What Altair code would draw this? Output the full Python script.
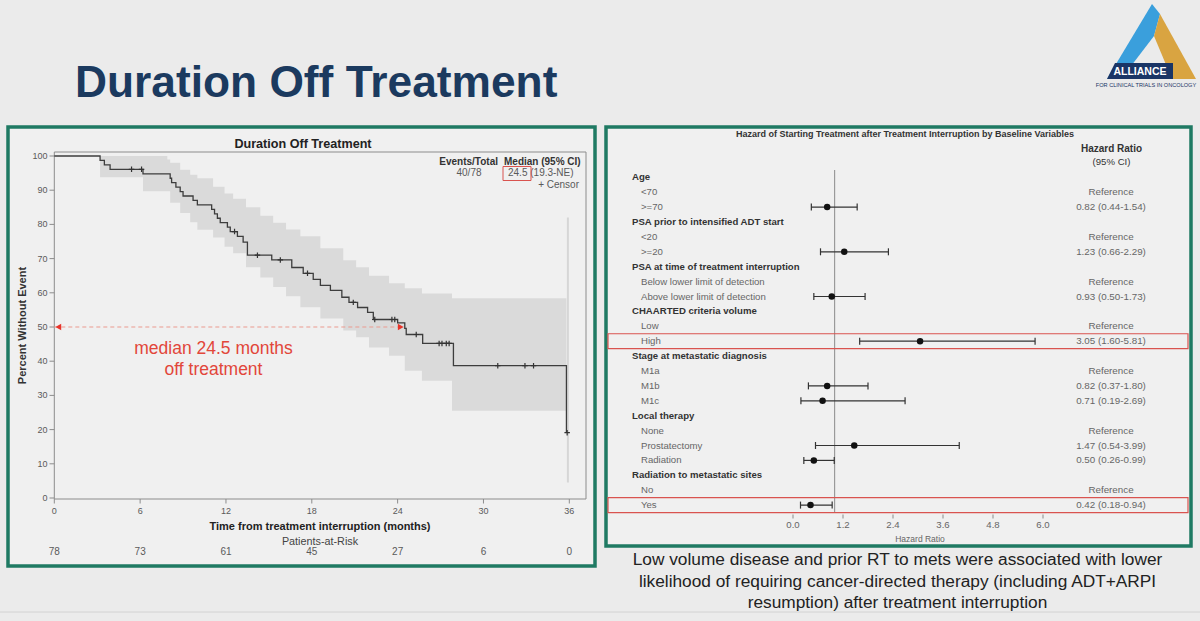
import altair as alt
import numpy as np
import pandas as pd

FONT = "Liberation Sans"
BG = "#ebebeb"
PANEL = "#f0f0f0"
FRAME = "#1f7a63"
NAVY = "#1b3a5f"
RED = "#e2463a"

# ---------------- Kaplan-Meier: duration off treatment ----------------
km_time = [0, 3.2, 3.5, 3.9, 6.2, 8.1, 8.2, 8.5, 8.8, 9.0, 9.7, 10.0, 11.0, 11.2,
           11.4, 11.6, 12.1, 12.3, 12.8, 13.2, 13.5, 15.2, 16.6, 17.4, 18.1, 18.6,
           19.3, 20.1, 20.6, 21.2, 21.9, 22.3, 24.0, 24.5, 24.6, 25.75, 27.9, 35.8]
km_surv = [100, 98.7, 97.4, 96.1, 94.8, 93.5, 92.2, 90.9, 89.6, 88.3, 87.0, 85.7,
           84.4, 83.1, 81.8, 80.5, 79.2, 77.9, 76.5, 74.8, 71.0, 69.6, 67.4, 65.7,
           63.9, 62.2, 60.7, 58.7, 57.2, 55.7, 54.3, 52.2, 51.2, 49.6, 47.8, 45.2,
           38.7, 19.1]
censor_time = [5.4, 6.1, 12.6, 14.2, 15.8, 17.7, 20.9, 22.4, 23.6, 23.8, 25.3,
               26.9, 27.1, 27.4, 27.6, 31.0, 32.9, 33.5, 35.85]

# pointwise 95% confidence band
band_time = [3.2, 6.2, 7.9, 8.1, 8.8, 9.5, 10.0, 11.1, 11.9, 12.5, 13.4, 14.4,
             15.3, 16.2, 17.2, 18.6, 20.2, 21.1, 22.0, 23.4, 24.5, 25.7, 27.8, 35.8]
band_hi = [100, 100, 99, 98, 96, 94.5, 93.5, 91, 89, 87.5, 85, 82.5, 80.5, 78.5,
           76.5, 73, 69.5, 67.5, 65, 62.8, 61.3, 59.8, 58.4, 58.4]
band_lo = [93.8, 89.7, 89.7, 86.3, 83.3, 80.6, 78.4, 76.2, 73.5, 71.6, 67.5, 64.5,
           61.7, 59, 55.8, 52.5, 49, 47, 44, 41.6, 37.2, 34.3, 25.5, 25.5]
last_ci = [35.9, 4.5, 82]

median_months = 24.5
km_x_ticks = [0, 6, 12, 18, 24, 30, 36]
km_y_ticks = [0, 10, 20, 30, 40, 50, 60, 70, 80, 90, 100]
at_risk = [78, 73, 61, 45, 27, 6, 0]

# ---------------- Forest plot: hazard ratios ----------------
forest_rows = ["Age", "<70", ">=70", "PSA prior to intensified ADT start", "<20", ">=20",
               "PSA at time of treatment interruption", "Below lower limit of detection",
               "Above lower limit of detection", "CHAARTED criteria volume", "Low", "High",
               "Stage at metastatic diagnosis", "M1a", "M1b", "M1c", "Local therapy", "None",
               "Prostatectomy", "Radiation", "Radiation to metastatic sites", "No", "Yes"]
header_rows = [0, 3, 6, 9, 12, 16, 20]
ref_rows = [1, 4, 7, 10, 13, 17, 21]
est_rows = [2, 5, 8, 11, 14, 15, 18, 19, 22]
hr_est = [0.82, 1.23, 0.93, 3.05, 0.82, 0.71, 1.47, 0.50, 0.42]
hr_lo = [0.44, 0.66, 0.50, 1.60, 0.37, 0.19, 0.54, 0.26, 0.18]
hr_hi = [1.54, 2.29, 1.73, 5.81, 1.80, 2.69, 3.99, 0.99, 0.94]
highlight_rows = [11, 22]
hr_ticks = [0.0, 1.2, 2.4, 3.6, 4.8, 6.0]

caption = ["Low volume disease and prior RT to mets were associated with lower",
           "likelihood of requiring cancer-directed therapy (including ADT+ARPI",
           "resumption) after treatment interruption"]

# ---------------- scales (pixel ranges on the slide canvas) ----------------
kx = alt.Scale(domain=[0, 36], range=[54.3, 569.3], nice=False, zero=False)
ky = alt.Scale(domain=[0, 100], range=[498, 156], nice=False, zero=False)
fx = alt.Scale(domain=[0, 6], range=[793, 1043], nice=False, zero=False)
fy = alt.Scale(domain=[0, 22], range=[177.3, 505.1], nice=False, zero=False)


def KX(f):
    return alt.X(f, type="quantitative", scale=kx, axis=None)


def KY(f):
    return alt.Y(f, type="quantitative", scale=ky, axis=None)


def FX(f):
    return alt.X(f, type="quantitative", scale=fx, axis=None)


def FY(f):
    return alt.Y(f, type="quantitative", scale=fy, axis=None)


ONE = pd.DataFrame({"k": [0]})


def text_at(text, x, y, size, color="#333333", weight="normal", align="left",
            baseline="middle", angle=0):
    props = dict(text=text, fontSize=size, color=color, fontWeight=weight,
                 align=align, baseline=baseline, font=FONT)
    if angle:
        props["angle"] = angle
    return alt.Chart(ONE).mark_text(**props).encode(x=alt.value(x), y=alt.value(y))


def box_at(x, x2, y, y2, stroke, sw, fill=None):
    kw = dict(stroke=stroke, strokeWidth=sw)
    if fill:
        kw["fill"] = fill
    else:
        kw["fillOpacity"] = 0
    return alt.Chart(ONE).mark_rect(**kw).encode(
        x=alt.value(x), x2=alt.value(x2), y=alt.value(y), y2=alt.value(y2))


layers = []

# panels
layers.append(box_at(8, 595, 127, 566, FRAME, 3.5, PANEL))
layers.append(box_at(606, 1191, 127, 546, FRAME, 3.5, PANEL))

# ---- KM panel ----
km = pd.DataFrame({"t": km_time, "s": km_surv})
band = pd.DataFrame({"t": band_time, "lo": band_lo, "hi": band_hi})
idx = np.searchsorted(km_time, censor_time, side="right") - 1
cens = pd.DataFrame({"t": censor_time, "s": np.array(km_surv)[idx]})

layers.append(alt.Chart(band).mark_area(interpolate="step-after", color="#dadada", opacity=1)
              .encode(x=KX("t"), y=KY("lo"), y2=alt.Y2("hi")))
layers.append(alt.Chart(pd.DataFrame({"t": [last_ci[0]], "a": [last_ci[1]], "b": [last_ci[2]]}))
              .mark_rule(color="#d6d6d6", strokeWidth=2)
              .encode(x=KX("t"), y=KY("a"), y2=alt.Y2("b")))
layers.append(box_at(54.3, 586, 152, 499, "#8c8c8c", 1))

yt = pd.DataFrame({"v": km_y_ticks})
layers.append(alt.Chart(yt).mark_rule(color="#8c8c8c", strokeWidth=1)
              .encode(y=KY("v"), x=alt.value(49.5), x2=alt.value(54.3)))
layers.append(alt.Chart(yt).mark_text(align="right", baseline="middle", fontSize=9,
                                      font=FONT, color="#5a5a5a")
              .encode(y=KY("v"), x=alt.value(47.5), text="v:Q"))
xt = pd.DataFrame({"v": km_x_ticks, "n": at_risk})
layers.append(alt.Chart(xt).mark_rule(color="#8c8c8c", strokeWidth=1)
              .encode(x=KX("v"), y=alt.value(499), y2=alt.value(503.5)))
layers.append(alt.Chart(xt).mark_text(align="center", baseline="middle", fontSize=9,
                                      font=FONT, color="#5a5a5a")
              .encode(x=KX("v"), y=alt.value(510.5), text="v:Q"))
layers.append(alt.Chart(xt).mark_text(align="center", baseline="middle", fontSize=10,
                                      font=FONT, color="#5a5a5a")
              .encode(x=KX("v"), y=alt.value(551.5), text="n:Q"))

# median marker
med = pd.DataFrame({"a": [0.0], "b": [median_months], "y": [50]})
layers.append(alt.Chart(med).mark_rule(color="#eb9a8f", strokeWidth=1, strokeDash=[4, 3])
              .encode(x=KX("a"), x2=alt.X2("b"), y=KY("y")))
layers.append(alt.Chart(med).mark_point(shape="triangle-left", filled=True, size=45,
                                        color="#e8342a", opacity=1)
              .encode(x=KX("a"), y=KY("y"), xOffset=alt.value(4)))
layers.append(alt.Chart(med).mark_point(shape="triangle-right", filled=True, size=45,
                                        color="#e8342a", opacity=1)
              .encode(x=KX("b"), y=KY("y"), xOffset=alt.value(-4)))

layers.append(alt.Chart(km).mark_line(interpolate="step-after", color="#3d3d3d", strokeWidth=1.3)
              .encode(x=KX("t"), y=KY("s")))
layers.append(alt.Chart(cens).mark_point(shape="M0,-1L0,1M-1,0L1,0", size=30, filled=False,
                                         color="#333333", strokeWidth=1.2, opacity=1)
              .encode(x=KX("t"), y=KY("s")))

layers.append(text_at("Duration Off Treatment", 303, 144, 12.6, "#222222", "bold", "center"))
layers.append(text_at("Events/Total", 498, 161.5, 10, "#333333", "bold", "right"))
layers.append(text_at("Median (95% CI)", 504, 161.5, 10, "#333333", "bold"))
layers.append(text_at("40/78", 469, 173, 10, "#5a5a5a", align="center"))
layers.append(text_at("24.5 (19.3-NE)", 508, 173, 10, "#5a5a5a"))
layers.append(text_at("+  Censor", 579, 185, 10, "#5a5a5a", align="right"))
layers.append(box_at(503, 531, 166.5, 180.5, "#d9534f", 1))
layers.append(text_at("Percent Without Event", 23, 325.5, 11, "#333333", "bold", "center", angle=270))
layers.append(text_at("Time from treatment interruption (months)", 320, 527, 11, "#222222", "bold", "center"))
layers.append(text_at("Patients-at-Risk", 320, 541.5, 10.8, "#444444", align="center"))
layers.append(text_at("median 24.5 months", 213.5, 348.5, 17.5, RED, align="center"))
layers.append(text_at("off treatment", 213.5, 370, 17.5, RED, align="center"))

# ---- forest panel ----
rows = pd.DataFrame({"r": list(range(len(forest_rows))), "label": forest_rows})
heads = rows[rows.r.isin(header_rows)]
subs = rows[~rows.r.isin(header_rows)]
est = pd.DataFrame({"r": est_rows, "e": hr_est, "lo": hr_lo, "hi": hr_hi})
est["txt"] = [f"{e:.2f} ({l:.2f}-{h:.2f})" for e, l, h in zip(hr_est, hr_lo, hr_hi)]
refs = pd.DataFrame({"r": ref_rows, "txt": ["Reference"] * len(ref_rows)})
hl = pd.DataFrame({"a": [r - 0.5 for r in highlight_rows], "b": [r + 0.5 for r in highlight_rows]})

layers.append(alt.Chart(pd.DataFrame({"v": [1.0]})).mark_rule(color="#8a8a8a", strokeWidth=1)
              .encode(x=FX("v"), y=alt.value(170), y2=alt.value(513)))
layers.append(alt.Chart(hl).mark_rect(fillOpacity=0, stroke="#d9534f", strokeWidth=1.2)
              .encode(y=FY("a"), y2=alt.Y2("b"), x=alt.value(608), x2=alt.value(1188)))
layers.append(alt.Chart(est).mark_rule(color="#333333", strokeWidth=1.2)
              .encode(x=FX("lo"), x2=alt.X2("hi"), y=FY("r")))
for f in ["lo", "hi"]:
    layers.append(alt.Chart(est).mark_point(shape="M0,-1L0,1", size=49, filled=False,
                                            color="#333333", strokeWidth=1.2, opacity=1)
                  .encode(x=FX(f), y=FY("r")))
layers.append(alt.Chart(est).mark_circle(size=42, color="#111111", opacity=1)
              .encode(x=FX("e"), y=FY("r")))
layers.append(alt.Chart(heads).mark_text(align="left", baseline="middle", fontSize=9.6,
                                         fontWeight="bold", font=FONT, color="#333333")
              .encode(y=FY("r"), x=alt.value(632), text="label:N"))
layers.append(alt.Chart(subs).mark_text(align="left", baseline="middle", fontSize=9.6,
                                        font=FONT, color="#666666")
              .encode(y=FY("r"), x=alt.value(641), text="label:N"))
layers.append(alt.Chart(est).mark_text(align="center", baseline="middle", fontSize=9.8,
                                       font=FONT, color="#666666")
              .encode(y=FY("r"), x=alt.value(1111), text="txt:N"))
layers.append(alt.Chart(refs).mark_text(align="center", baseline="middle", fontSize=9.8,
                                        font=FONT, color="#666666")
              .encode(y=FY("r"), x=alt.value(1111), text="txt:N"))
ft = pd.DataFrame({"v": hr_ticks})
layers.append(alt.Chart(ft).mark_rule(color="#8a8a8a", strokeWidth=1)
              .encode(x=FX("v"), y=alt.value(514.5), y2=alt.value(518.5)))
layers.append(alt.Chart(ft).mark_text(align="center", baseline="middle", fontSize=9.6,
                                      font=FONT, color="#666666")
              .encode(x=FX("v"), y=alt.value(525), text=alt.Text("v:Q", format=".1f")))
layers.append(text_at("Hazard Ratio", 920, 539, 8.5, "#666666", align="center"))
layers.append(text_at("Hazard of Starting Treatment after Treatment Interruption by Baseline Variables",
                      905, 134, 9, "#333333", "bold", "center"))
layers.append(text_at("Hazard Ratio", 1111.5, 149, 10, "#333333", "bold", "center"))
layers.append(text_at("(95% CI)", 1111.5, 162, 9.6, "#333333", align="center"))

# ---- slide title, caption, footer ----
layers.append(text_at("Duration Off Treatment", 75, 97, 44.3, NAVY, "bold", baseline="alphabetic"))
for i, line in enumerate(caption):
    layers.append(text_at(line, 897.5, 560 + 21.5 * i, 17.3, "#222222", align="center"))
layers.append(alt.Chart(ONE).mark_rule(color="#d2d2d2", strokeWidth=1)
              .encode(x=alt.value(0), x2=alt.value(1200), y=alt.value(612)))

# logo
logo_parts = [
    ("M0.1,-0.82L0.26,-0.62L0.14,-0.18L-0.38,0.5L-0.8,0.68Z", "#3a9fdc"),
    ("M0.26,-0.62L0.98,0.68L0.5,0.68L0.14,-0.18Z", "#d9a441"),
    ("M-0.64,0.36L0.52,0.36L0.52,0.68L-0.8,0.68Z", "#1a3566"),
]
for path, col in logo_parts:
    layers.append(alt.Chart(ONE).mark_point(shape=path, filled=True, fill=col, size=10000,
                                            strokeWidth=0, opacity=1)
                  .encode(x=alt.value(1147), y=alt.value(45)))
layers.append(text_at("ALLIANCE", 1140, 72, 10.5, "#ffffff", "bold", "center"))
layers.append(text_at("FOR CLINICAL TRIALS IN ONCOLOGY", 1146, 84.5, 5.6, "#1a3566", align="center"))

chart = (alt.layer(*layers)
         .resolve_scale(x="independent", y="independent")
         .properties(width=1200, height=621, padding=0,
                     autosize=alt.AutoSizeParams(type="none"), background=BG)
         .configure_view(strokeWidth=0))

chart.save("out.html", embed_options={"renderer": "svg", "actions": False})
